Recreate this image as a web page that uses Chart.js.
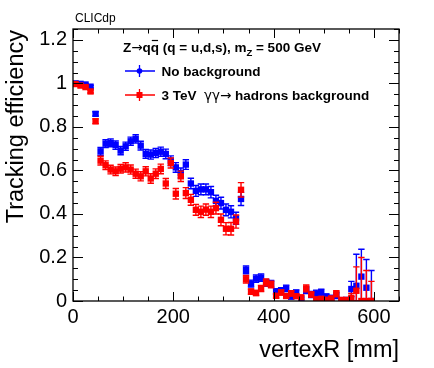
<!DOCTYPE html>
<html>
<head>
<meta charset="utf-8">
<script src="https://cdn.jsdelivr.net/npm/chart.js@4.4.1/dist/chart.umd.min.js"></script>
<style>
  html, body { margin: 0; padding: 0; background: #fff; }
  canvas { display: block; }
</style>
</head>
<body>
<canvas id="effChart" width="434" height="368"></canvas>
<script>
// bin centres [mm]
const vertexR = [5, 15, 25, 35, 45, 55, 65, 75, 85, 95, 105, 115, 125, 135, 145, 155, 165, 175, 185, 195,
  205, 215, 225, 235, 245, 255, 265, 275, 285, 295, 305, 315, 325, 335, 345, 355, 365, 375, 385, 395,
  405, 415, 425, 435, 445, 455, 465, 475, 485, 495, 505, 515, 525, 535, 545, 555, 565, 575, 585, 595];

// no background (blue)
const effNoBkg = [1.0, 0.998, 0.995, 0.985, 0.86, 0.688, 0.723, 0.727, 0.716, 0.691, 0.711, 0.734, 0.745, 0.714, 0.676, 0.673, 0.68, 0.686, 0.676, 0.645,
  0.614, 0.588, 0.627, 0.54, 0.506, 0.513, 0.513, 0.5, 0.46, 0.45, 0.419, 0.41, 0.38, 0.469, 0.143, 0.08, 0.103, 0.107, 0.083, 0.079,
  0.043, 0.047, 0.058, 0.02, 0.038, 0.01, 0.05, 0.03, 0.035, 0.038, 0.02, 0.014, 0.025, 0.004, 0.005, 0.055, 0.07, 0.112, 0.061, 0];
const errNoBkg = [0.004, 0.004, 0.005, 0.006, 0.01, 0.018, 0.018, 0.018, 0.019, 0.019, 0.019, 0.019, 0.019, 0.02, 0.02, 0.021, 0.021, 0.021, 0.022, 0.022,
  0.022, 0.023, 0.022, 0.024, 0.025, 0.025, 0.025, 0.026, 0.026, 0.027, 0.027, 0.028, 0.028, 0.03, 0.018, 0.016, 0.017, 0.017, 0.016, 0.016,
  0.013, 0.014, 0.015, 0.01, 0.013, 0.008, 0.016, 0.014, 0.015, 0.016, 0.012, 0.011, 0.014, 0.006, 0.007, 0.035, 0.145, 0.126, 0.13, 0.14];

// 3 TeV gamma gamma -> hadrons background (red)
const effBkg = [0.997, 0.99, 0.983, 0.963, 0.826, 0.645, 0.624, 0.604, 0.596, 0.608, 0.614, 0.604, 0.585, 0.573, 0.596, 0.563, 0.585, 0.607, 0.54, 0.634,
  0.493, 0.573, 0.496, 0.465, 0.419, 0.41, 0.42, 0.41, 0.427, 0.373, 0.332, 0.332, 0.365, 0.511, 0.1, 0.043, 0.037, 0.058, 0.085, 0.076,
  0.024, 0.039, 0.023, 0.035, 0.022, 0.017, 0.058, 0.03, 0.008, 0.01, 0.006, 0.012, 0.033, 0.005, 0.005, 0.015, 0.047, 0, 0, 0];
const errBkg = [0.004, 0.005, 0.005, 0.007, 0.011, 0.02, 0.02, 0.02, 0.02, 0.02, 0.021, 0.021, 0.021, 0.021, 0.021, 0.022, 0.022, 0.022, 0.023, 0.023,
  0.024, 0.024, 0.025, 0.025, 0.025, 0.026, 0.026, 0.026, 0.027, 0.027, 0.028, 0.029, 0.03, 0.033, 0.017, 0.012, 0.012, 0.014, 0.016, 0.015,
  0.01, 0.012, 0.01, 0.012, 0.01, 0.009, 0.016, 0.012, 0.006, 0.007, 0.006, 0.008, 0.014, 0.005, 0.005, 0.02, 0.11, 0.2, 0.14, 0.09];

const xTicks = [0, 200, 400, 600];
const yTicks = [0, 0.2, 0.4, 0.6, 0.8, 1, 1.2];

const FONT = "'Liberation Sans', Arial, Helvetica, sans-serif";
const SYM = "'DejaVu Sans', sans-serif";
const BLUE = "#0000ff";
const RED = "#ff0000";

// error bars, drawn just before each dataset's markers
const errorBars = {
  id: "errorBars",
  beforeDatasetDraw(chart, args) {
    const ds = chart.data.datasets[args.index];
    const errs = ds.errors;
    if (!errs) return;
    const { x, y } = chart.scales;
    const ctx = chart.ctx;
    const a = chart.chartArea;
    ctx.save();
    ctx.beginPath();
    ctx.rect(a.left, a.top, a.right - a.left, a.bottom - a.top);
    ctx.clip();
    ctx.strokeStyle = ds.backgroundColor;
    ctx.lineWidth = 1.4;
    ds.data.forEach((p, i) => {
      const px = x.getPixelForValue(p.x);
      const top = y.getPixelForValue(p.y + errs[i]);
      const bot = y.getPixelForValue(Math.max(0, p.y - errs[i]));
      ctx.beginPath();
      ctx.moveTo(px, top); ctx.lineTo(px, bot);
      ctx.moveTo(px - 3.2, top); ctx.lineTo(px + 3.2, top);
      ctx.moveTo(px - 3.2, bot); ctx.lineTo(px + 3.2, bot);
      ctx.stroke();
    });
    ctx.restore();
  }
};

// draws pieces of text with different fonts on one line
function richText(ctx, x, y, parts) {
  parts.forEach(p => {
    ctx.font = p.font;
    const w = ctx.measureText(p.t).width;
    ctx.fillText(p.t, x, y + (p.dy || 0));
    if (p.bar) {
      ctx.save();
      ctx.lineWidth = 1.2;
      ctx.beginPath();
      ctx.moveTo(x + 1, y - 11.5);
      ctx.lineTo(x + w - 1, y - 11.5);
      ctx.stroke();
      ctx.restore();
    }
    x += w;
  });
}

// frame, inner ticks, titles and legend (ROOT style)
const decorations = {
  id: "decorations",
  afterDraw(chart) {
    const ctx = chart.ctx;
    const a = chart.chartArea;
    const xs = chart.scales.x, ys = chart.scales.y;
    ctx.save();
    ctx.strokeStyle = "#000";
    ctx.fillStyle = "#000";
    ctx.lineWidth = 1.3;
    ctx.strokeRect(a.left, a.top, a.right - a.left, a.bottom - a.top);

    ctx.lineWidth = 1;
    ctx.beginPath();
    for (let v = 0; v <= xs.max + 1e-9; v += 50) {
      const px = Math.round(xs.getPixelForValue(v)) + 0.5;
      const len = v % 200 === 0 ? 9 : 4.5;
      ctx.moveTo(px, a.bottom); ctx.lineTo(px, a.bottom - len);
      ctx.moveTo(px, a.top); ctx.lineTo(px, a.top + len);
    }
    for (let k = 0; k * 0.05 <= ys.max + 1e-9; k++) {
      const py = Math.round(ys.getPixelForValue(k * 0.05)) + 0.5;
      const len = k % 4 === 0 ? 10 : 5;
      ctx.moveTo(a.left, py); ctx.lineTo(a.left + len, py);
      ctx.moveTo(a.right, py); ctx.lineTo(a.right - len, py);
    }
    ctx.stroke();

    // CLICdp label
    ctx.font = "12px " + FONT;
    ctx.textBaseline = "alphabetic";
    ctx.textAlign = "left";
    ctx.fillText("CLICdp", 75, 22);

    // axis titles
    ctx.font = "23.5px " + FONT;
    ctx.textAlign = "right";
    ctx.fillText("vertexR [mm]", a.right, 357);
    ctx.save();
    ctx.translate(23, a.top + 1);
    ctx.rotate(-Math.PI / 2);
    ctx.fillText("Tracking efficiency", 0, 0);
    ctx.restore();

    // legend
    ctx.textAlign = "left";
    const B = "bold 13.5px " + FONT;
    const S = "13.5px " + SYM;
    richText(ctx, 123, 52, [
      { t: "Z", font: B },
      { t: "\u2192", font: S },
      { t: "q", font: B },
      { t: "q", font: B, bar: true },
      { t: " (q = u,d,s), m", font: B },
      { t: "Z", font: "bold 9.5px " + FONT, dy: 4 },
      { t: " = 500 GeV", font: B }
    ]);

    const entries = [
      { y: 71, color: BLUE, label: [{ t: "No background", font: B }], circle: true },
      { y: 95, color: RED, label: [{ t: "3 TeV  ", font: B }, { t: "\u03b3\u03b3\u2192", font: S }, { t: " hadrons background", font: B }], circle: false }
    ];
    entries.forEach(e => {
      ctx.strokeStyle = e.color;
      ctx.fillStyle = e.color;
      ctx.lineWidth = 1.3;
      ctx.beginPath();
      ctx.moveTo(125, e.y); ctx.lineTo(155, e.y);
      ctx.moveTo(139.5, e.y - 6); ctx.lineTo(139.5, e.y + 6);
      ctx.stroke();
      if (e.circle) {
        ctx.beginPath();
        ctx.arc(139.5, e.y, 2.8, 0, Math.PI * 2);
        ctx.fill();
      } else {
        ctx.fillRect(136.5, e.y - 3, 6, 6);
      }
      ctx.fillStyle = "#000";
      richText(ctx, 161.5, e.y + 5, e.label);
    });
    ctx.restore();
  }
};

const keepTicks = list => scale => {
  scale.ticks = list.map(v => ({ value: v }));
};

new Chart(document.getElementById("effChart"), {
  type: "scatter",
  data: {
    datasets: [
      {
        label: "No background",
        data: vertexR.map((r, i) => ({ x: r, y: effNoBkg[i] })),
        errors: errNoBkg,
        backgroundColor: BLUE,
        borderColor: BLUE,
        pointStyle: "rect",
        pointRadius: 4.5,
        borderWidth: 0,
        order: 2
      },
      {
        label: "3 TeV gamma gamma -> hadrons background",
        data: vertexR.map((r, i) => ({ x: r, y: effBkg[i] })),
        errors: errBkg,
        backgroundColor: RED,
        borderColor: RED,
        pointStyle: "rect",
        pointRadius: 4.5,
        borderWidth: 0,
        order: 1
      }
    ]
  },
  options: {
    responsive: false,
    animation: false,
    devicePixelRatio: 1,
    layout: { padding: { top: 29, right: 35, left: 0, bottom: 0 } },
    plugins: {
      legend: { display: false },
      tooltip: { enabled: false }
    },
    scales: {
      x: {
        type: "linear",
        min: 0,
        max: 650,
        afterBuildTicks: keepTicks(xTicks),
        afterFit: s => { s.height = 67; },
        grid: { display: false, drawTicks: false },
        border: { display: false },
        ticks: {
          padding: 4,
          color: "#000",
          font: { family: FONT, size: 20 },
          callback: v => String(v)
        }
      },
      y: {
        min: 0,
        max: 1.25,
        afterBuildTicks: keepTicks(yTicks),
        afterFit: s => { s.width = 73; },
        grid: { display: false, drawTicks: false },
        border: { display: false },
        ticks: {
          padding: 6,
          color: "#000",
          font: { family: FONT, size: 20 },
          callback: v => String(Math.round(v * 10) / 10)
        }
      }
    }
  },
  plugins: [errorBars, decorations]
});
</script>
</body>
</html>
